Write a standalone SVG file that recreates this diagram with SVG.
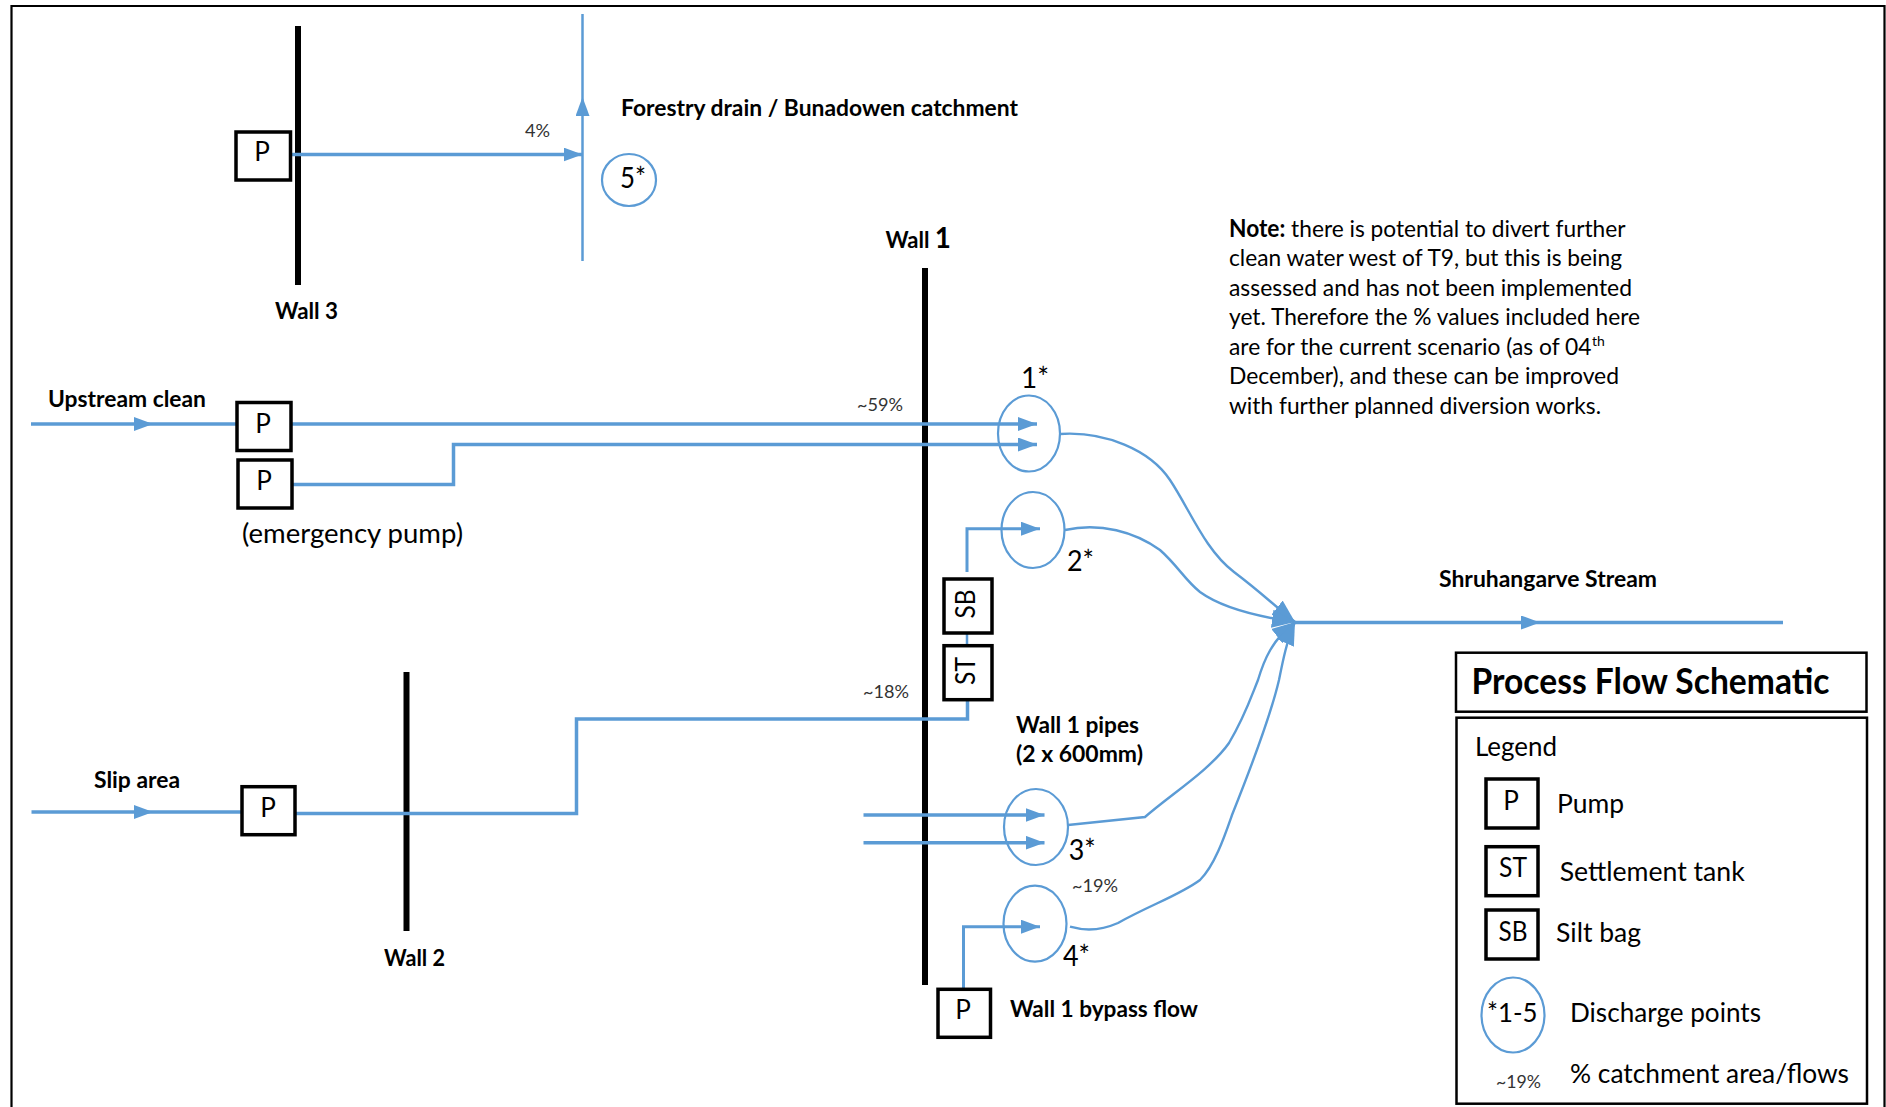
<svg xmlns="http://www.w3.org/2000/svg" width="1886" height="1107" viewBox="0 0 1886 1107">
<style>
text{font-family:"Lato","Liberation Sans",sans-serif;fill:#000}
.b{font-weight:700;font-size:23px}
.n{font-size:24px}
.k{font-size:26.5px}
.m{font-size:26px;text-anchor:middle}
.t{font-size:29px}
.s{font-size:17px;fill:#333}
.box{fill:#fff;stroke:#000;stroke-width:3.5}
.wall{stroke:#000;stroke-width:6;fill:none}
.c{fill:none;stroke:#5B9BD5;stroke-width:2.2}
.f{fill:none;stroke:#5B9BD5;stroke-width:3.5}
.cv{fill:none;stroke:#5B9BD5;stroke-width:2.4}
.ah{marker-end:url(#a)}
.am{marker-mid:url(#a)}
.aj{marker-end:url(#j)}
</style>
<defs>
<marker id="a" markerUnits="userSpaceOnUse" markerWidth="20" markerHeight="14" refX="19" refY="7" orient="auto"><path d="M0 0L19 7L0 14Z" fill="#5B9BD5"/></marker>
<marker id="j" markerUnits="userSpaceOnUse" markerWidth="24" markerHeight="20" refX="23" refY="10" orient="auto"><path d="M0 1L23 10L0 19Z" fill="#5B9BD5"/></marker>
</defs>
<rect width="1886" height="1107" fill="#fff"/>
<path d="M11.500 1107V6H1884.500V1107" fill="none" stroke="#000" stroke-width="2.200"/>

<g id="walls">
<path class="wall" d="M298 26V285"/><path class="wall" d="M925 268V985"/><path class="wall" d="M406.500 672V931"/>
<text class="b" x="275" y="319" textLength="63" lengthAdjust="spacingAndGlyphs">Wall 3</text>
<text class="b" x="885.500" y="248" textLength="65.500" lengthAdjust="spacingAndGlyphs">Wall <tspan font-size="29">1</tspan></text>
<text class="b" x="384" y="966" textLength="61" lengthAdjust="spacingAndGlyphs">Wall 2</text>
</g>

<g id="connectors">
<polyline class="f am" style="stroke-width:2.500" points="582.500,261 582.500,97 582.500,14"/>
<path class="f ah" d="M290 154.500H582.500"/>
<polyline class="f am" points="31,424 153,424 240,424"/>
<path class="f ah" d="M291 424H1037"/>
<path class="f ah" d="M291 484.500H453.500V444.500H1037"/>
<polyline class="f am" points="31.500,812 153,812 242,812"/>
<path class="f" d="M295 813.500H576.500V719H967.500V700"/>
<path class="f" style="stroke-width:2.500" d="M967 645.500V633"/>
<path class="f ah" style="stroke-width:3" d="M967 572V528.700H1040"/>
<path class="f ah" d="M863.500 815H1044.500"/>
<path class="f ah" d="M863.500 842.700H1044.500"/>
<path class="f ah" style="stroke-width:3" d="M963.500 989V926.700H1040"/>
<polyline class="f am" points="1295,622.500 1540,622.500 1783,622.500"/>
<path class="cv aj" d="M1060 434C1105 431 1150 450 1170 480C1190 510 1205 550 1234 572C1263 594 1270 602 1295 622"/>
<path class="cv aj" d="M1065 530C1100 522 1135 532 1160 550C1178 566 1185 580 1200 592C1222 608 1260 617 1295 622"/>
<path class="cv aj" d="M1068 825L1145 817C1170 795 1210 770 1229 743C1244 718 1250 700 1258 680C1264 660 1272 640 1295 622"/>
<path class="cv aj" d="M1070 926.700C1085 931 1100 931 1118 923C1150 905 1180 895 1200 880C1215 865 1225 835 1232 815C1250 770 1272 710 1279 680C1283 660 1287 640 1295 622"/>
</g>

<g id="pump-wall3"><rect class="box" x="236" y="132" width="54.500" height="48"/><text class="m" x="262" y="161">P</text></g>
<g id="pump-upstream"><rect class="box" x="237" y="402.500" width="54" height="48"/><text class="m" x="263" y="432.500">P</text></g>
<g id="pump-emergency"><rect class="box" x="238" y="460" width="54" height="48"/><text class="m" x="264" y="490">P</text></g>
<g id="pump-slip"><rect class="box" x="242" y="786.700" width="53" height="48"/><text class="m" x="268" y="816.500">P</text></g>
<g id="pump-bypass"><rect class="box" x="938" y="989.300" width="52.500" height="48"/><text class="m" x="963" y="1019">P</text></g>
<g id="silt-bag"><rect class="box" x="944" y="579" width="48" height="54"/><text class="m" transform="translate(974.500 604) rotate(-90)" x="0" y="0" textLength="29" lengthAdjust="spacingAndGlyphs">SB</text></g>
<g id="settlement-tank"><rect class="box" x="944" y="645.700" width="48" height="54"/><text class="m" transform="translate(974.500 671) rotate(-90)" x="0" y="0" textLength="28" lengthAdjust="spacingAndGlyphs">ST</text></g>

<g id="point-5"><ellipse class="c" cx="629" cy="180" rx="27" ry="26"/><text class="t" x="620" y="187.500" textLength="26" lengthAdjust="spacingAndGlyphs">5*</text></g>
<g id="point-1"><ellipse class="c" cx="1029" cy="433.500" rx="31" ry="38"/><text class="t" x="1021" y="387.500" textLength="28" lengthAdjust="spacingAndGlyphs">1*</text></g>
<g id="point-2"><ellipse class="c" cx="1033" cy="530" rx="31.500" ry="38"/><text class="t" x="1067" y="571" textLength="27" lengthAdjust="spacingAndGlyphs">2*</text></g>
<g id="point-3"><ellipse class="c" cx="1036" cy="827" rx="32" ry="38"/><text class="t" x="1068.700" y="860" textLength="27" lengthAdjust="spacingAndGlyphs">3*</text></g>
<g id="point-4"><ellipse class="c" cx="1035" cy="923.700" rx="31.500" ry="38"/><text class="t" x="1063" y="966" textLength="27" lengthAdjust="spacingAndGlyphs">4*</text></g>

<g id="labels">
<text class="b" x="621" y="116" textLength="397" lengthAdjust="spacingAndGlyphs">Forestry drain / Bunadowen catchment</text>
<text class="b" x="48" y="407" textLength="158" lengthAdjust="spacingAndGlyphs">Upstream clean</text>
<text class="b" x="94" y="787.700" textLength="86" lengthAdjust="spacingAndGlyphs">Slip area</text>
<text class="k" x="242" y="543" textLength="221" lengthAdjust="spacingAndGlyphs">(emergency pump)</text>
<text class="b" x="1439" y="586.700" textLength="218" lengthAdjust="spacingAndGlyphs">Shruhangarve Stream</text>
<text class="b" x="1016" y="732.700" textLength="123" lengthAdjust="spacingAndGlyphs">Wall 1 pipes</text>
<text class="b" x="1016" y="761.700" textLength="127" lengthAdjust="spacingAndGlyphs">(2 x 600mm)</text>
<text class="b" x="1010" y="1017" textLength="188" lengthAdjust="spacingAndGlyphs">Wall 1 bypass flow</text>
<text class="s" x="525" y="136.500" textLength="25" lengthAdjust="spacingAndGlyphs">4%</text>
<text class="s" x="857" y="410.500" textLength="46" lengthAdjust="spacingAndGlyphs">~59%</text>
<text class="s" x="863" y="698" textLength="46" lengthAdjust="spacingAndGlyphs">~18%</text>
<text class="s" x="1072" y="892" textLength="46" lengthAdjust="spacingAndGlyphs">~19%</text>
</g>

<g id="note">
<text class="n" x="1229" y="236.700" textLength="396.500" lengthAdjust="spacingAndGlyphs"><tspan font-weight="700">Note:</tspan> there is potential to divert further</text>
<text class="n" x="1229" y="266" textLength="393" lengthAdjust="spacingAndGlyphs">clean water west of T9, but this is being</text>
<text class="n" x="1229" y="296" textLength="403" lengthAdjust="spacingAndGlyphs">assessed and has not been implemented</text>
<text class="n" x="1229" y="325.300" textLength="411" lengthAdjust="spacingAndGlyphs">yet. Therefore the % values included here</text>
<text class="n" x="1229" y="355" textLength="362.500" lengthAdjust="spacingAndGlyphs">are for the current scenario (as of 04</text>
<text x="1592" y="346" font-size="14">th</text>
<text class="n" x="1229" y="384.300" textLength="390" lengthAdjust="spacingAndGlyphs">December), and these can be improved</text>
<text class="n" x="1229" y="413.700" textLength="372" lengthAdjust="spacingAndGlyphs">with further planned diversion works.</text>
</g>

<g id="title"><rect x="1456" y="652.700" width="410.500" height="59" fill="#fff" stroke="#000" stroke-width="2.500"/>
<text x="1471.500" y="694" font-size="37" font-weight="700" textLength="358" lengthAdjust="spacingAndGlyphs">Process Flow Schematic</text></g>

<g id="legend"><rect x="1456.500" y="717.700" width="410.500" height="386" fill="#fff" stroke="#000" stroke-width="2.500"/>
<text class="k" x="1475" y="756" textLength="82" lengthAdjust="spacingAndGlyphs">Legend</text>
<rect class="box" x="1486" y="779" width="52" height="49"/><text class="m" x="1511" y="810">P</text>
<text class="k" x="1557" y="812.700" textLength="67" lengthAdjust="spacingAndGlyphs">Pump</text>
<rect class="box" x="1486" y="846.700" width="52" height="49"/><text class="m" x="1513" y="877" textLength="28" lengthAdjust="spacingAndGlyphs">ST</text>
<text class="k" x="1559.700" y="881" textLength="185" lengthAdjust="spacingAndGlyphs">Settlement tank</text>
<rect class="box" x="1486" y="910" width="52" height="49"/><text class="m" x="1513" y="940.700" textLength="29" lengthAdjust="spacingAndGlyphs">SB</text>
<text class="k" x="1556" y="941.700" textLength="85" lengthAdjust="spacingAndGlyphs">Silt bag</text>
<ellipse class="c" cx="1513" cy="1015" rx="31.500" ry="37.500"/>
<text class="k" x="1487" y="1021.700" textLength="50.500" lengthAdjust="spacingAndGlyphs">*1-5</text>
<text class="k" x="1570" y="1021.700" textLength="191" lengthAdjust="spacingAndGlyphs">Discharge points</text>
<text class="s" x="1496" y="1088" textLength="45" lengthAdjust="spacingAndGlyphs">~19%</text>
<text class="k" x="1570" y="1083" textLength="279" lengthAdjust="spacingAndGlyphs">% catchment area/flows</text>
</g>
</svg>
